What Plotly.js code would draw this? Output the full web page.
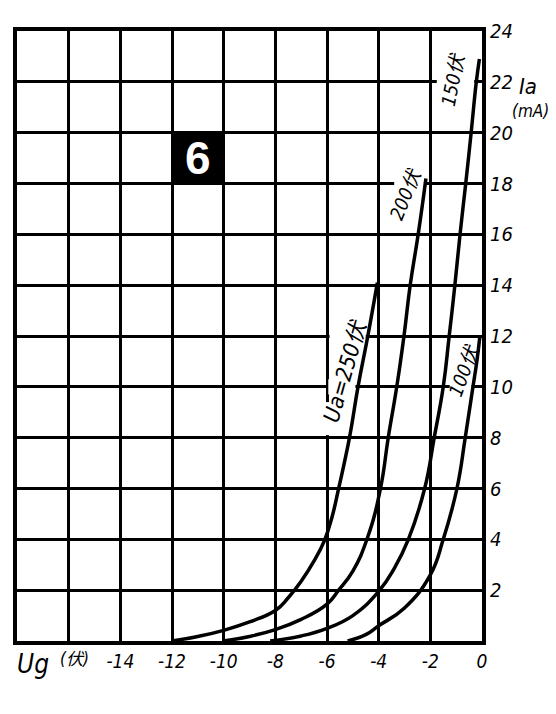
<!DOCTYPE html>
<html>
<head>
<meta charset="utf-8">
<script src="https://cdn.plot.ly/plotly-3.0.1.min.js"></script>
<style>
  html, body { margin: 0; padding: 0; background: #fff; }
  #chart { width: 556px; height: 714px; }
</style>
</head>
<body>
<div id="chart"></div>
<script>
// ---- data (grid voltage Ug in V, anode current Ia in mA) ----
const ug250 = [-12, -11, -10, -9, -8, -7.5, -7, -6.5, -6.1, -5.8, -5.55, -5.13, -4.8, -4.42, -4.05];
const ia250 = [0, 0.18, 0.42, 0.75, 1.2, 1.7, 2.35, 3.15, 3.95, 4.9, 6, 8, 10, 12, 14.1];

const ug200 = [-10, -9, -8, -7, -6, -5.55, -5, -4.42, -3.93, -3.63, -3.3, -3.02, -2.78, -2.47, -2.17];
const ia200 = [0, 0.18, 0.45, 0.85, 1.45, 2, 2.75, 4.1, 6, 8, 10, 12, 14, 16, 18.2];

const ug150 = [-8.2, -7, -6, -5, -4, -3.4, -2.85, -2.22, -1.85, -1.5, -1.27, -1.05, -0.85, -0.63, -0.42, -0.22, -0.1];
const ia150 = [0, 0.2, 0.5, 1.0, 1.95, 2.85, 4, 6, 8, 10, 12, 14, 16, 18, 20, 22, 22.9];

const ug100 = [-5.2, -4.5, -4, -3, -2, -1.5, -0.97, -0.65, -0.35, -0.2, -0.08];
const ia100 = [0, 0.25, 0.6, 1.3, 2.6, 4, 6, 8, 10, 11, 12];

const curveNames = ['Ua=250伏', '200伏', '150伏', '100伏'];

const xTickVals = [-16, -14, -12, -10, -8, -6, -4, -2, 0];
const xTickText = ['', '-14', '-12', '-10', '-8', '-6', '-4', '-2', '0'];
const yTickVals = [2, 4, 6, 8, 10, 12, 14, 16, 18, 20, 22, 24];
const yTickText = ['2', '4', '6', '8', '10', '12', '14', '16', '18', '20', '22', '24'];

// ---- drawing ----
const FONT = '"DejaVu Sans Condensed", "DejaVu Sans", "Noto Sans CJK SC", sans-serif';
const L = 17, R = 74, T = 31, B = 73, W = 556, H = 714;
const PW = W - L - R, PH = H - T - B;
const px = x => (x - L) / PW;
const py = y => 1 - (y - T) / PH;

function curve(xs, ys, name) {
  return {
    type: 'scatter', mode: 'lines', x: xs, y: ys, name: name,
    line: { color: '#000', width: 3.5, shape: 'spline', smoothing: 1.3 },
    hoverinfo: 'skip'
  };
}

const traces = [
  curve(ug250, ia250, curveNames[0]),
  curve(ug200, ia200, curveNames[1]),
  curve(ug150, ia150, curveNames[2]),
  curve(ug100, ia100, curveNames[3])
];

function gap(x0, x1, y0, y1) {
  return { type: 'rect', xref: 'x', yref: 'y', x0: x0, x1: x1, y0: y0, y1: y1,
           fillcolor: '#fff', line: { width: 0 }, layer: 'between' };
}

const shapes = [
  gap(-1.75, -0.3, 21.7, 22.3),
  gap(-3.4, -2.25, 17.7, 18.3),
  gap(-5.9, -4.5, 11.7, 12.3),
  gap(-5.95, -4.9, 9.7, 10.3),
  gap(-1.25, -0.4, 9.7, 10.3),
  gap(-6.25, -5.75, 8.1, 9.4),
  { type: 'rect', xref: 'x', yref: 'y', x0: -12, x1: -10, y0: 18, y1: 20,
    fillcolor: '#000', line: { color: '#000', width: 2 }, layer: 'above' }
];

const it = (size) => ({ family: FONT, size: size, color: '#000', style: 'italic' });
const ann = (o) => Object.assign({ showarrow: false, xanchor: 'center', yanchor: 'middle' }, o);

const annotations = [
  ann({ x: -11, y: 19, xref: 'x', yref: 'y', text: '6',
    font: { family: '"Liberation Sans", Arial, sans-serif', size: 46, color: '#fff', weight: 'bold' } }),
  ann({ x: -1.12, y: 22.1, xref: 'x', yref: 'y', text: curveNames[2], textangle: -79, font: it(19) }),
  ann({ x: -2.98, y: 17.6, xref: 'x', yref: 'y', text: curveNames[1], textangle: -68, font: it(19) }),
  ann({ x: -5.3, y: 10.6, xref: 'x', yref: 'y', text: curveNames[0], textangle: -74, font: it(22) }),
  ann({ x: -0.7, y: 10.65, xref: 'x', yref: 'y', text: curveNames[3], textangle: -70, font: it(19) }),
  ann({ x: px(528), y: py(86), xref: 'paper', yref: 'paper', text: 'Ia', font: it(22) }),
  ann({ x: px(530), y: py(111), xref: 'paper', yref: 'paper', text: '(mA)', font: it(17) }),
  ann({ x: px(33), y: py(664), xref: 'paper', yref: 'paper', text: 'Ug', font: it(26) }),
  ann({ x: px(74), y: py(659), xref: 'paper', yref: 'paper', text: '(伏)', font: it(17) })
];

const layout = {
  width: W, height: H,
  margin: { l: L, r: R, t: T, b: B, pad: 0 },
  paper_bgcolor: '#fff', plot_bgcolor: '#fff',
  showlegend: false,
  xaxis: {
    range: [-18, 0], tickmode: 'array', tickvals: xTickVals, ticktext: xTickText,
    showgrid: true, gridcolor: '#000', gridwidth: 3, zeroline: false,
    showline: true, linecolor: '#000', linewidth: 4, mirror: true,
    ticks: '', tickfont: it(19), fixedrange: true
  },
  yaxis: {
    range: [0, 24], side: 'right', tickmode: 'array', tickvals: yTickVals, ticktext: yTickText,
    showgrid: true, gridcolor: '#000', gridwidth: 3, zeroline: false,
    showline: true, linecolor: '#000', linewidth: 4, mirror: true,
    ticks: '', tickfont: it(20), fixedrange: true
  },
  shapes: shapes,
  annotations: annotations
};

Plotly.newPlot('chart', traces, layout, { staticPlot: true, displayModeBar: false });
</script>
</body>
</html>
